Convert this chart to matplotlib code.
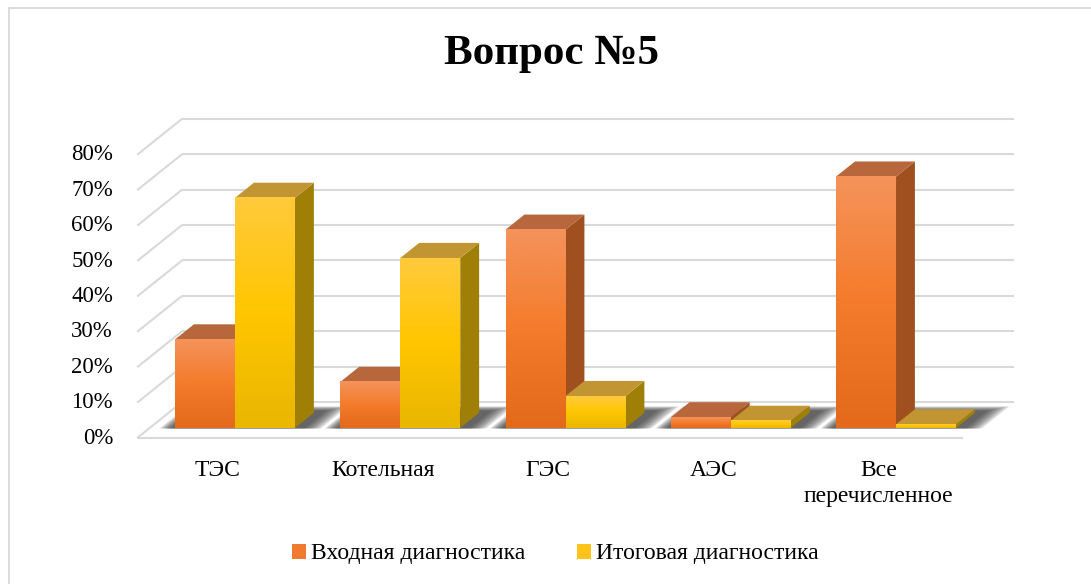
import numpy as np
import matplotlib
matplotlib.use("Agg")
import matplotlib.pyplot as plt
from matplotlib.patches import Polygon, Patch
from matplotlib.colors import LinearSegmentedColormap
from matplotlib.lines import Line2D

# ---- data -------------------------------------------------------------
categories = ["ТЭС", "Котельная", "ГЭС", "АЭС", "Все\nперечисленное"]
entry_diag = [25, 13, 56, 3, 71]     # Входная диагностика, %
final_diag = [65, 48, 9, 2, 1]       # Итоговая диагностика, %
series_names = ["Входная диагностика", "Итоговая диагностика"]
ticks = [0, 10, 20, 30, 40, 50, 60, 70, 80]
tick_labels = [f"{t}%" for t in ticks]
title = "Вопрос №5"

# ---- style ------------------------------------------------------------
plt.rcParams["font.family"] = ["Liberation Serif", "DejaVu Serif"]
GRID = "#d9d9d9"
ORANGE = dict(front=["#e4691b", "#f47b2b", "#f4935a"], side="#a0501e", top="#b8673d")
YELLOW = dict(front=["#e9b600", "#ffc600", "#ffca3c"], side="#a07f06", top="#c19632")

W, H, DPI = 1091, 584, 100
fig = plt.figure(figsize=(W / DPI, H / DPI), dpi=DPI)
ax = fig.add_axes([0, 0, 1, 1])
ax.axis("off")
XLIM = (-1.346, 5.256)
YLIM = (-41.24, 123.73)

# oblique projection: depth runs up and to the right
DX, DY = 0.272, 10.17
def proj(x, y, d):
    return (x + DX * d, y + DY * d)

X_LEFT, FLOOR_RIGHT, WALL_RIGHT = -0.516, 4.48, 4.52
BAR_W = 0.363
D_FRONT, D_BACK = 0.28, 0.70

# ---- walls and grid ---------------------------------------------------
for t in ticks:
    xs, ys = zip(proj(X_LEFT, t, 0), proj(X_LEFT, t, 1))
    ax.plot(xs, ys, color=GRID, lw=1.5, zorder=1, solid_capstyle="butt")
    xs, ys = zip(proj(X_LEFT, t, 1), proj(WALL_RIGHT, t, 1))
    ax.plot(xs, ys, color=GRID, lw=1.5, zorder=1, solid_capstyle="butt")
xs, ys = zip(proj(X_LEFT, 0, 0), proj(FLOOR_RIGHT, 0, 0))
ax.plot(xs, ys, color=GRID, lw=1.5, zorder=1, solid_capstyle="butt")

for t, lab in zip(ticks, tick_labels):
    ax.text(X_LEFT - 0.146, t, lab, ha="right", va="center", fontsize=16.5, color="#000000")


def face(pts, color, z):
    ax.add_patch(Polygon(pts, closed=True, facecolor=color, edgecolor="none", zorder=z))


def gradient_face(x0, x1, y0, y1, colors, z):
    cmap = LinearSegmentedColormap.from_list("g", colors)
    grad = np.linspace(0, 1, 256).reshape(-1, 1)
    ax.imshow(grad, extent=[x0, x1, y0, y1], origin="lower", cmap=cmap,
              aspect="auto", zorder=z, interpolation="bilinear")


def shadow(xl, xr, z):
    # soft floor shadow under a pair of columns
    n = 8
    for k in range(n):
        g = (n - 1 - k) / (n - 1)
        pad_l = 0.02 + 0.07 * g
        pad_r = 0.06 + 0.10 * g
        pad_d = 0.02 + 0.12 * g
        pts = [proj(xl - pad_l, 0, D_FRONT - 0.015),
               proj(xr + pad_r, 0, D_FRONT - 0.015),
               proj(xr + pad_r, 0, D_BACK + 0.04 + pad_d),
               proj(xl - pad_l, 0, D_BACK + 0.04 + pad_d)]
        ax.add_patch(Polygon(pts, closed=True, facecolor="#2e2e2e", alpha=0.15,
                             edgecolor="none", zorder=z))


def column(x0, x1, v, style, z):
    fx0, fy0 = proj(x0, 0, D_FRONT)
    fx1, fy1 = proj(x1, v, D_FRONT)
    face([proj(x1, 0, D_FRONT), proj(x1, 0, D_BACK), proj(x1, v, D_BACK), proj(x1, v, D_FRONT)],
         style["side"], z)
    face([proj(x0, v, D_FRONT), proj(x1, v, D_FRONT), proj(x1, v, D_BACK), proj(x0, v, D_BACK)],
         style["top"], z)
    gradient_face(fx0, fx1, fy0, fy1, style["front"], z + 0.5)


for i, (a, b) in enumerate(zip(entry_diag, final_diag)):
    shadow(i - BAR_W, i + BAR_W, 2)
    column(i - BAR_W, i, a, ORANGE, 3 + i)
    column(i, i + BAR_W, b, YELLOW, 3.7 + i)

for i, cat in enumerate(categories):
    ax.text(i - 0.03, -6.2, cat, ha="center", va="top", fontsize=17,
            linespacing=1.3, color="#000000")

ax.set_xlim(*XLIM)
ax.set_ylim(*YLIM)
ax.set_autoscale_on(False)

# ---- title, legend, frame ---------------------------------------------
fig.text(551.5 / W, 1 - 54 / H, title, ha="center", va="center",
         fontsize=31, fontweight="bold")

handles = [Patch(facecolor="#f07a2e", edgecolor="none"),
           Patch(facecolor="#ffc31a", edgecolor="none")]
fig.legend(handles, series_names, loc="center", bbox_to_anchor=(555 / W, 1 - 554 / H),
           ncol=2, frameon=False, fontsize=17, handlelength=0.6, handleheight=0.6,
           handletextpad=0.2, columnspacing=2.2, borderpad=0)

fig.add_artist(Line2D([8.5 / W, 8.5 / W], [0, 1 - 7.5 / H], color=GRID, lw=1.3))
fig.add_artist(Line2D([8.5 / W, 1], [1 - 7.5 / H, 1 - 7.5 / H], color=GRID, lw=1.3))

fig.savefig("out.png", dpi=DPI)
